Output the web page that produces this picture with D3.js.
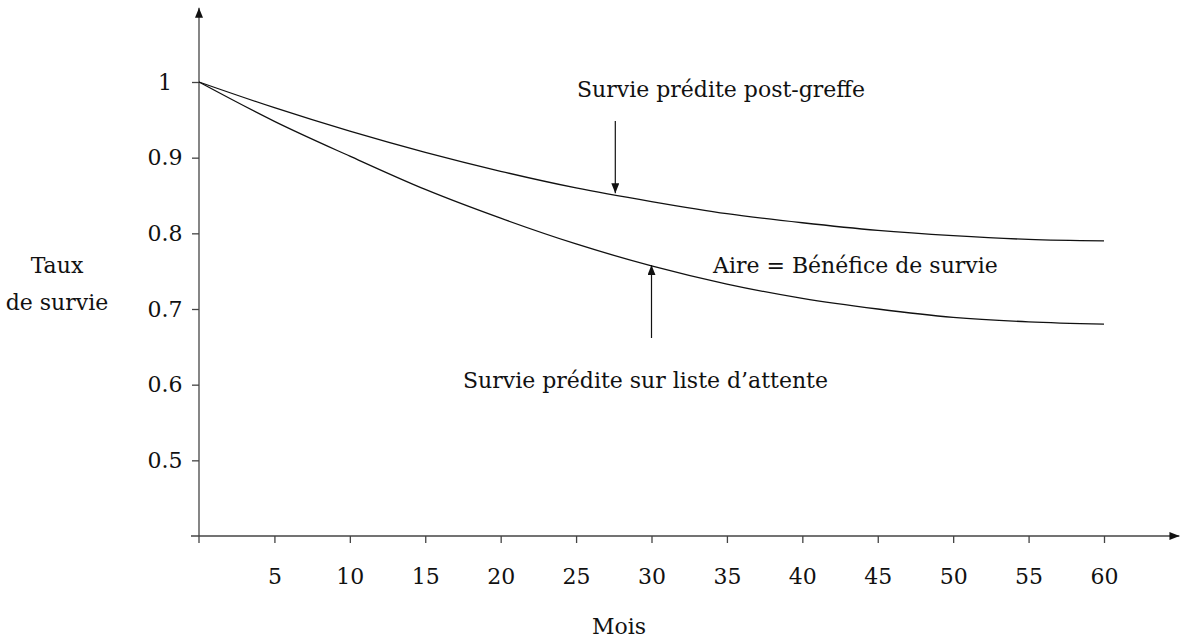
<!DOCTYPE html>
<html>
<head>
<meta charset="utf-8">
<script src="https://cdn.jsdelivr.net/npm/d3@7"></script>
<style>
  body { margin: 0; background: #fff; }
  svg text { font-family: "DejaVu Serif", serif; fill: #111; }
</style>
</head>
<body>
<div id="chart"></div>
<script>
// months and the two predicted survival curves
var months      = [0, 5, 10, 15, 20, 25, 30, 35, 40, 45, 50, 55, 60];
var postGreffe  = [1.0, 0.966, 0.935, 0.907, 0.882, 0.860, 0.842, 0.826, 0.814, 0.804, 0.797, 0.792, 0.790];
var listeAttente = [1.0, 0.948, 0.902, 0.858, 0.820, 0.786, 0.757, 0.733, 0.714, 0.700, 0.689, 0.683, 0.680];

var xTicks = [5, 10, 15, 20, 25, 30, 35, 40, 45, 50, 55, 60];
var yTicks = [0.5, 0.6, 0.7, 0.8, 0.9, 1];

var graphD = {
  width: 1180,
  height: 639,
  x0: 199,
  x60: 1104,
  yBottom: 536,
  yTop: 82
};
var fontSize = 22;

var svg = d3.select("#chart")
            .append("svg")
            .attr("width", graphD.width)
            .attr("height", graphD.height);

var defs = svg.append("defs");
defs.append("marker")
    .attr("id", "arrow")
    .attr("viewBox", "0 0 10 8")
    .attr("refX", 10).attr("refY", 4)
    .attr("markerWidth", 10).attr("markerHeight", 8)
    .attr("markerUnits", "userSpaceOnUse")
    .attr("orient", "auto")
    .append("path").attr("d", "M0,0 L10,4 L0,8 Z").attr("fill", "#111");

var xScale = d3.scaleLinear().domain([0, 60]).range([graphD.x0, graphD.x60]);
var yScale = d3.scaleLinear().domain([0.4, 1]).range([graphD.yBottom, graphD.yTop]);

// axes lines with arrows
svg.append("line")
   .attr("x1", xScale(0) - 8).attr("y1", yScale(0.4))
   .attr("x2", xScale(65)).attr("y2", yScale(0.4))
   .attr("stroke", "#444").attr("stroke-width", 1.3)
   .attr("marker-end", "url(#arrow)");

svg.append("line")
   .attr("x1", xScale(0)).attr("y1", yScale(0.4) + 7)
   .attr("x2", xScale(0)).attr("y2", yScale(1.098))
   .attr("stroke", "#444").attr("stroke-width", 1.3)
   .attr("marker-end", "url(#arrow)");

var xAxis = d3.axisBottom(xScale).tickValues(xTicks).tickSize(7).tickPadding(25)
              .tickFormat(d3.format("d"));
var yAxis = d3.axisLeft(yScale).tickValues(yTicks).tickSize(7).tickPadding(0)
              .tickFormat(function(d) { return d === 1 ? "1" : d3.format(".1f")(d); });

var gx = svg.append("g")
            .attr("transform", "translate(0," + yScale(0.4) + ")")
            .call(xAxis)
            .attr("font-family", null).attr("font-size", null);
gx.select(".domain").remove();
gx.selectAll("line").attr("stroke", "#444").attr("stroke-width", 1.3);
gx.selectAll("text").style("font-size", fontSize + "px").attr("fill", "#111");

var gy = svg.append("g")
            .attr("transform", "translate(" + xScale(0) + ",0)")
            .call(yAxis)
            .attr("font-family", null).attr("font-size", null);
gy.select(".domain").remove();
gy.selectAll("line").attr("stroke", "#444").attr("stroke-width", 1.3);
gy.selectAll("text")
  .style("font-size", fontSize + "px").attr("fill", "#111")
  .attr("text-anchor", "middle").attr("x", -34);

// curves
var line = d3.line()
             .x(function(d, i) { return xScale(months[i]); })
             .y(function(d) { return yScale(d); })
             .curve(d3.curveMonotoneX);

svg.append("path").attr("d", line(postGreffe))
   .attr("fill", "none").attr("stroke", "#111").attr("stroke-width", 1.3);
svg.append("path").attr("d", line(listeAttente))
   .attr("fill", "none").attr("stroke", "#111").attr("stroke-width", 1.3);

// annotations
var tPost = 27.6, tListe = 30;
svg.append("line")
   .attr("x1", xScale(tPost)).attr("y1", 121)
   .attr("x2", xScale(tPost)).attr("y2", yScale(0.853))
   .attr("stroke", "#111").attr("stroke-width", 1.2)
   .attr("marker-end", "url(#arrow)");
svg.append("line")
   .attr("x1", xScale(tListe)).attr("y1", 338)
   .attr("x2", xScale(tListe)).attr("y2", yScale(0.758))
   .attr("stroke", "#111").attr("stroke-width", 1.2)
   .attr("marker-end", "url(#arrow)");

function label(x, y, txt, anchor) {
  svg.append("text").attr("x", x).attr("y", y)
     .attr("text-anchor", anchor || "start")
     .style("font-size", fontSize + "px")
     .text(txt);
}

label(577, 97, "Survie prédite post-greffe");
label(713, 273, "Aire = Bénéfice de survie");
label(463, 388, "Survie prédite sur liste d\u2019attente");

// axis titles
label(57, 273, "Taux", "middle");
label(57, 310, "de survie", "middle");
label(619, 634, "Mois", "middle");
</script>
</body>
</html>
